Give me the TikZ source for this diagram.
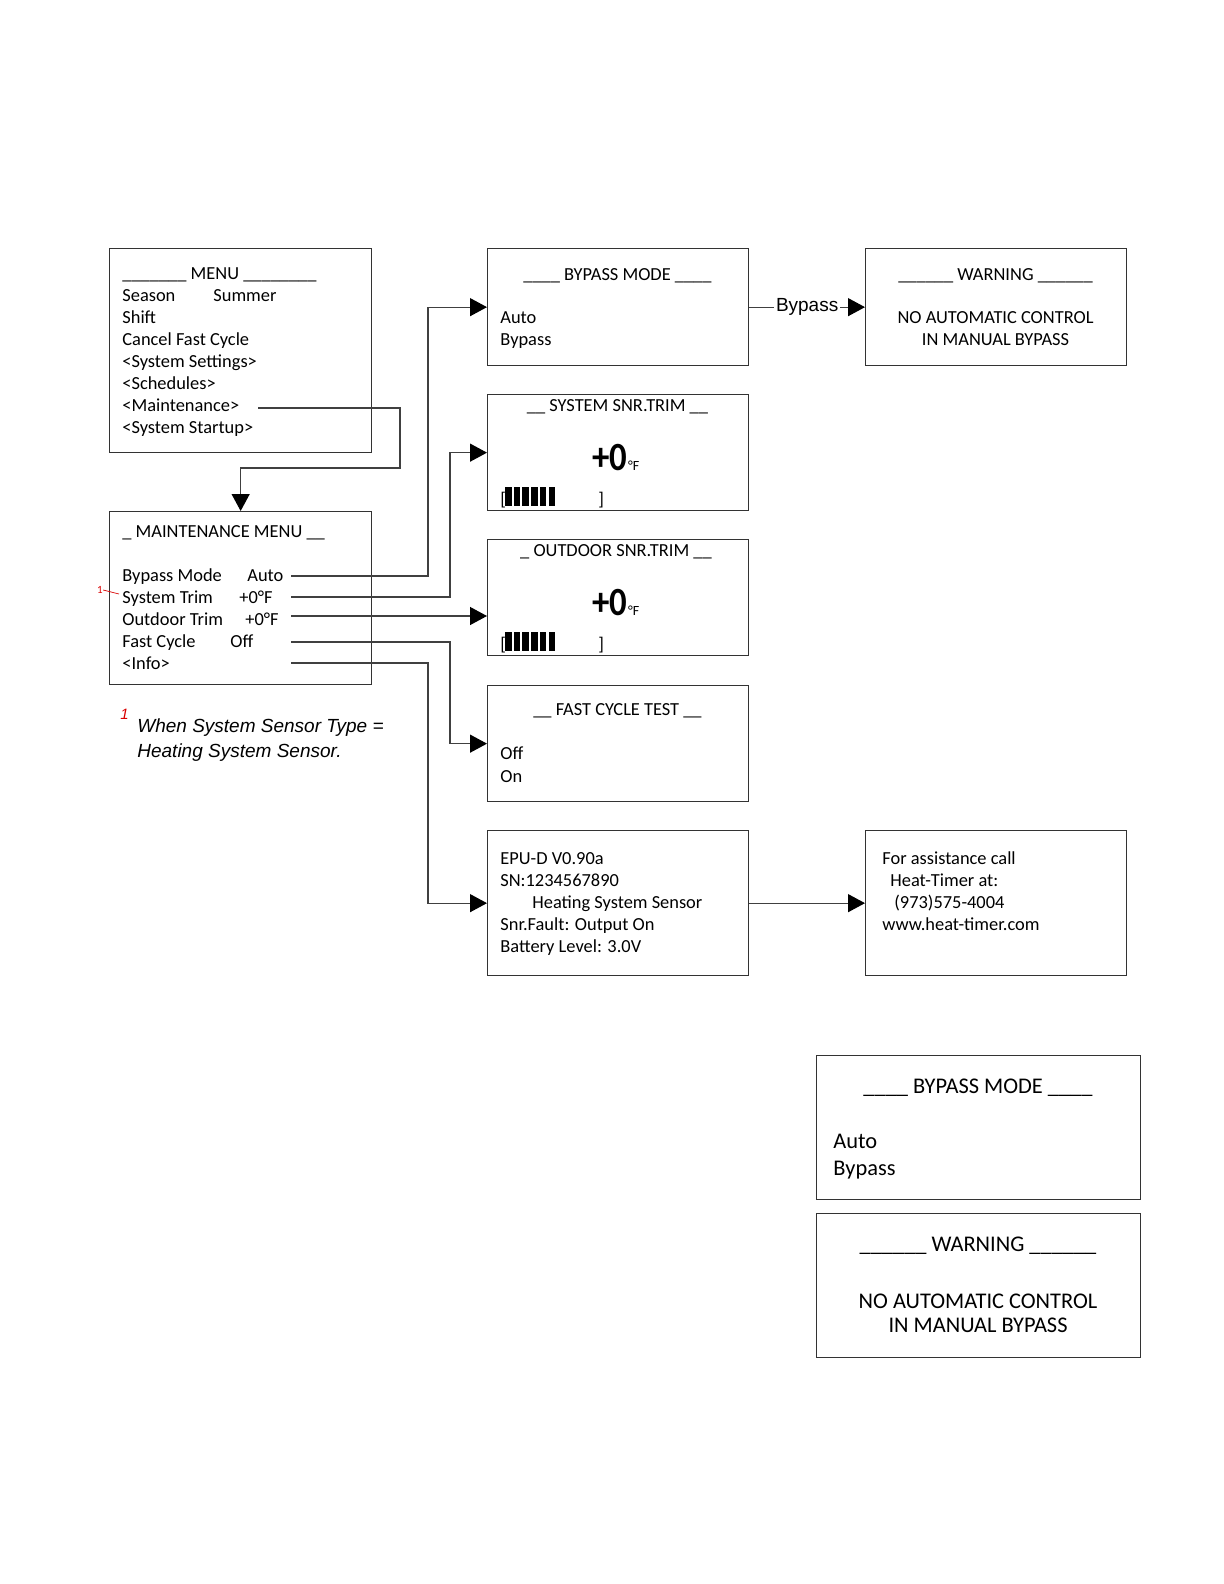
\documentclass[tikz,border=0pt]{standalone}
\usepackage{fontspec}
\setmainfont{Carlito}
\newfontfamily\arialfont{Liberation Sans}
\usetikzlibrary{arrows.meta,positioning}

\begin{document}
\begin{tikzpicture}[x=0.5pt,y=-0.5pt,
  box/.style={draw=black!80,line width=0.65pt,inner sep=0pt,anchor=north west},
  txt/.style={anchor=base west,inner sep=0pt,font=\fontsize{9.2}{11}\selectfont},
  ctr/.style={anchor=base,inner sep=0pt,font=\fontsize{9.2}{11}\selectfont},
  bigtxt/.style={anchor=base west,inner sep=0pt,font=\fontsize{11.2}{13}\selectfont},
  bigctr/.style={anchor=base,inner sep=0pt,font=\fontsize{11.2}{13}\selectfont},
  trim/.style={anchor=base west,inner sep=0pt,font=\fontsize{20}{20}\bfseries\selectfont,xscale=0.87,transform shape},
  unit/.style={anchor=base west,inner sep=0pt,font=\fontsize{7}{7}\selectfont},
  note/.style={anchor=base west,inner sep=0pt,font=\arialfont\itshape\fontsize{9.5}{12}\selectfont},
  link/.style={draw=black!75,line width=0.65pt},
  arr/.style={link,-{Triangle[length=8.5pt,width=9pt,color=black]}}]
\useasboundingbox (0,0) rectangle (1224,1584);

% screens
\node[box,minimum width=131pt,minimum height=102pt] (menu) at (109,248) {};
\node[box,minimum width=130.5pt,minimum height=58.5pt] (bypass) at (487,248) {};
\node[box,minimum width=130.5pt,minimum height=58.5pt] (warn) at (865,248) {};
\node[box,minimum width=130.5pt,minimum height=58pt] (systrim) at (487,394) {};
\node[box,minimum width=130.5pt,minimum height=58pt] (outtrim) at (487,539) {};
\node[box,minimum width=131pt,minimum height=86.5pt] (maint) at (109,511) {};
\node[box,minimum width=130.5pt,minimum height=58pt] (fast) at (487,685) {};
\node[box,minimum width=130.5pt,minimum height=72.5pt] (info) at (487,830) {};
\node[box,minimum width=130.5pt,minimum height=72.5pt] (help) at (865,830) {};
\node[box,minimum width=162pt,minimum height=72pt] (bypassB) at (816,1055) {};
\node[box,minimum width=162pt,minimum height=72pt] (warnB) at (816,1213) {};

% main menu
\node[txt] (menuT) at (122,279) {\_\_\_\_\_\_\_ MENU \_\_\_\_\_\_\_\_};
\node[txt] (menuA) at (122,301) {Season};
\node[txt] (menuAv) at (213,301) {Summer};
\node[txt] (menuB) at (122,323) {Shift};
\node[txt] (menuC) at (122,345) {Cancel Fast Cycle};
\node[txt] (menuD) at (122,367) {<System Settings>};
\node[txt] (menuE) at (122,389) {<Schedules>};
\node[txt] (menuF) at (122,411) {<Maintenance>};
\node[txt] (menuG) at (122,433) {<System Startup>};

% bypass mode
\node[ctr] (bypassT) at (617.5,280) {\_\_\_\_ BYPASS MODE \_\_\_\_};
\node[txt] (bypassA) at (500,323) {Auto};
\node[txt] (bypassB) at (500,345) {Bypass};

% warning
\node[ctr] (warnT) at (995.5,280) {\_\_\_\_\_\_ WARNING \_\_\_\_\_\_};
\node[ctr] (warnA) at (995.5,323) {NO AUTOMATIC CONTROL};
\node[ctr] (warnB) at (995.5,345) {IN MANUAL BYPASS};

% system trim
\node[ctr] (sysT) at (617.5,411) {\_\_ SYSTEM SNR.TRIM \_\_};
\node[trim] (sysV) at (592,470.5) {+0};
\node[unit] (sysU) at (sysV.base east) {°F};
\node[txt] (sysL) at (500,505) {[};
\foreach \k in {0,...,5} \fill (505+8.7*\k,487) rectangle ++(6.5,19);
\node[txt] (sysR) at (598,505) {]};

% outdoor trim
\node[ctr] (outT) at (616,556) {\_ OUTDOOR SNR.TRIM \_\_};
\node[trim] (outV) at (592,615.5) {+0};
\node[unit] (outU) at (outV.base east) {°F};
\node[txt] (outL) at (500,650) {[};
\foreach \k in {0,...,5} \fill (505+8.7*\k,632) rectangle ++(6.5,19);
\node[txt] (outR) at (598,650) {]};

% maintenance menu
\node[txt] (mmT) at (122,537) {\_ MAINTENANCE MENU \_\_};
\node[txt] (mmA) at (122,581) {Bypass Mode};
\node[txt] (mmAv) at (247,581) {Auto};
\node[txt] (mmB) at (122,603) {System Trim};
\node[txt] (mmBv) at (239,603) {+0°F};
\node[txt] (mmC) at (122,625) {Outdoor Trim};
\node[txt] (mmCv) at (245,625) {+0°F};
\node[txt] (mmD) at (122,647) {Fast Cycle};
\node[txt] (mmDv) at (230,647) {Off};
\node[txt] (mmE) at (122,669) {<Info>};

% footnote
\node[inner sep=0pt,text=red!85!black,font=\fontsize{5.5}{6}\selectfont] (fn) at (100,590) {1};
\coordinate (fnEnd) at (119,594);
\draw[red!85!black,line width=0.35pt] (fn.east) -- (fnEnd);
\node[anchor=base west,inner sep=0pt,text=red!85!black,font=\arialfont\itshape\fontsize{7.5}{8}\selectfont] (fnN) at (120,719) {1};
\node[note] (noteA) at (137,732) {When System Sensor Type =};
\node[note] (noteB) at (137,757) {Heating System Sensor.};

% fast cycle
\node[ctr] (fastT) at (617.5,715) {\_\_ FAST CYCLE TEST \_\_};
\node[txt] (fastA) at (500,759.5) {Off};
\node[txt] (fastB) at (500,782) {On};

% info
\node[txt] (infoA) at (500,864) {EPU-D V0.90a};
\node[txt] (infoB) at (500,886) {SN:1234567890};
\node[txt] (infoC) at (532,908) {Heating System Sensor};
\node[txt] (infoD) at (500,930) {Snr.Fault: Output On};
\node[txt] (infoE) at (500,952) {Battery Level: 3.0V};

% assistance
\node[txt] (helpA) at (882,864) {For assistance call};
\node[txt] (helpB) at (890,886) {Heat-Timer at:};
\node[txt] (helpC) at (894,908) {(973)575-4004};
\node[txt] (helpD) at (882,930) {www.heat-timer.com};

% lower screens
\node[bigctr] (bpT) at (978,1093) {\_\_\_\_ BYPASS MODE \_\_\_\_};
\node[bigtxt] (bpA) at (833,1148) {Auto};
\node[bigtxt] (bpB) at (833,1175) {Bypass};
\node[bigctr] (wnT) at (978,1251.5) {\_\_\_\_\_\_ WARNING \_\_\_\_\_\_};
\node[bigctr] (wnA) at (978,1308) {NO AUTOMATIC CONTROL};
\node[bigctr] (wnB) at (978,1332) {IN MANUAL BYPASS};

% links
\coordinate (cMnt) at (258,408);
\coordinate (cBm) at (291,576);
\coordinate (cSt) at (291,597);
\coordinate (cOt) at (291,616);
\coordinate (cFc) at (291,642);
\coordinate (cIn) at (291,663);
\draw[arr] (cMnt) -| (400,468) -| (maint.north);
\draw[arr] (cBm) -- (428,576) |- (bypass.west);
\draw[arr] (cSt) -- (450,597) |- (systrim.west);
\draw[arr] (cOt) -- (cOt -| outtrim.west);
\draw[arr] (cFc) -- (450,642) |- (fast.west);
\draw[arr] (cIn) -- (428,663) |- (info.west);
\draw[arr] (bypass) -- node[fill=white,inner sep=1pt,font=\arialfont\fontsize{9.5}{10}\selectfont] (bpLbl) {Bypass} (warn);
\draw[arr] (info) -- (help);
\end{tikzpicture}
\end{document}
